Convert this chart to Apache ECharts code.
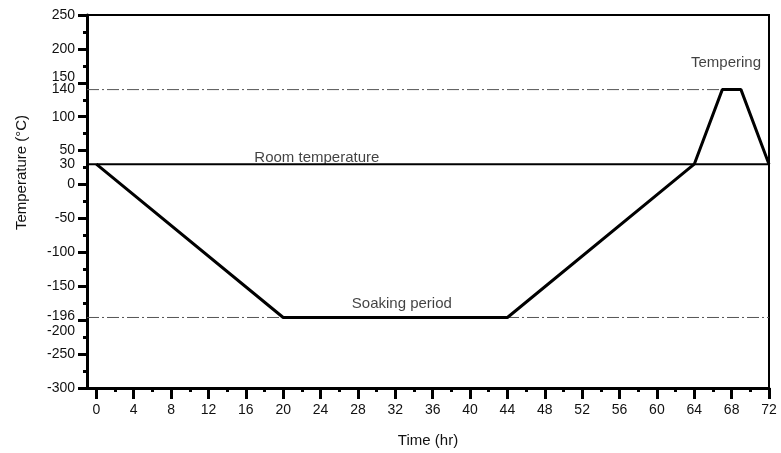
<!DOCTYPE html>
<html>
<head>
<meta charset="utf-8">
<script src="https://cdn.jsdelivr.net/npm/echarts@6/dist/echarts.min.js"></script>
<style>
  html, body { margin: 0; padding: 0; background: #fff; }
  #main { width: 781px; height: 453px; }
</style>
</head>
<body>
<div id="main"></div>
<script>
// treatment profile (time hr, temperature C)
var profile = [[0, 30], [20, -196], [44, -196], [64, 30], [67, 140], [69, 140], [72, 30]];
var roomLine = [[-1, 30], [72, 30]];
var temperLine = [[-1, 140], [67, 140]];
var soakLine = [[-1, -196], [72, -196]];

var xTicks = [0, 4, 8, 12, 16, 20, 24, 28, 32, 36, 40, 44, 48, 52, 56, 60, 64, 68, 72];
var xMinorTicks = [2, 6, 10, 14, 18, 22, 26, 30, 34, 38, 42, 46, 50, 54, 58, 62, 66, 70];
var yLabels = [250, 200, 150, 140, 100, 50, 30, 0, -50, -100, -150, -196, -200, -250, -300];

// text notes: [x, y, text]
var notes = [
    [23.6, 39, 'Room temperature'],
    [32.7, -176, 'Soaking period'],
    [67.4, 179, 'Tempering']
];

var font = 'Liberation Sans';
var chart = echarts.init(document.getElementById('main'));

chart.setOption({
    animation: false,
    grid: {
        left: 87, right: 12, top: 15, bottom: 61,
        show: true, borderColor: '#000', borderWidth: 2
    },
    xAxis: [{
        type: 'value', min: -1, max: 72,
        name: 'Time (hr)', nameLocation: 'middle', nameGap: 45,
        nameTextStyle: { fontFamily: font, fontSize: 15, color: '#111' },
        axisLine: { onZero: false, lineStyle: { color: '#000', width: 3 } },
        axisTick: { customValues: xTicks, length: 11, lineStyle: { color: '#000', width: 3 } },
        axisLabel: { customValues: xTicks, margin: 15, fontFamily: font, fontSize: 14, color: '#111' },
        splitLine: { show: false }
    }, {
        type: 'value', min: -1, max: 72, position: 'bottom',
        axisLine: { show: false, onZero: false },
        axisTick: { customValues: xMinorTicks, length: 4, lineStyle: { color: '#000', width: 3 } },
        axisLabel: { show: false },
        splitLine: { show: false }
    }],
    yAxis: {
        type: 'value', min: -300, max: 250, interval: 50,
        name: 'Temperature (°C)', nameLocation: 'middle', nameGap: 58,
        nameTextStyle: { fontFamily: font, fontSize: 15, color: '#111', padding: [0, 0, 0, 58] },
        axisLine: { show: true, onZero: false, lineStyle: { color: '#000', width: 3 } },
        axisTick: { length: 9, lineStyle: { color: '#000', width: 3 } },
        minorTick: { show: true, splitNumber: 2, length: 4, lineStyle: { color: '#000', width: 3 } },
        axisLabel: {
            customValues: yLabels, margin: 12, fontFamily: font, fontSize: 14, color: '#111',
            // nudge crowded labels apart like the original
            formatter: function (v) {
                if (v === 150) return '{up|150}';
                if (v === -196) return '{up2|-196}';
                if (v === -200) return '{down|-200}';
                return String(v);
            },
            rich: {
                up: { fontFamily: font, fontSize: 14, color: '#111', padding: [0, 0, 12, 0] },
                up2: { fontFamily: font, fontSize: 14, color: '#111', padding: [0, 0, 3, 0] },
                down: { fontFamily: font, fontSize: 14, color: '#111', padding: [21, 0, 0, 0] }
            }
        },
        splitLine: { show: false },
        minorSplitLine: { show: false }
    },
    series: [{
        type: 'line', data: temperLine, symbol: 'none', silent: true,
        lineStyle: { color: '#555', width: 1, type: [12, 3, 2, 3] }
    }, {
        type: 'line', data: soakLine, symbol: 'none', silent: true,
        lineStyle: { color: '#555', width: 1, type: [12, 3, 2, 3] }
    }, {
        type: 'line', data: roomLine, symbol: 'none', silent: true,
        lineStyle: { color: '#000', width: 2 }
    }, {
        type: 'line', data: profile, symbol: 'none', silent: true,
        lineStyle: { color: '#000', width: 3 }
    }, {
        type: 'scatter', symbolSize: 0, silent: true,
        data: notes.map(function (n) { return { value: [n[0], n[1]], name: n[2] }; }),
        label: {
            show: true, position: 'inside', formatter: '{b}',
            fontFamily: font, fontSize: 15, color: '#111'
        }
    }]
});
</script>
</body>
</html>
